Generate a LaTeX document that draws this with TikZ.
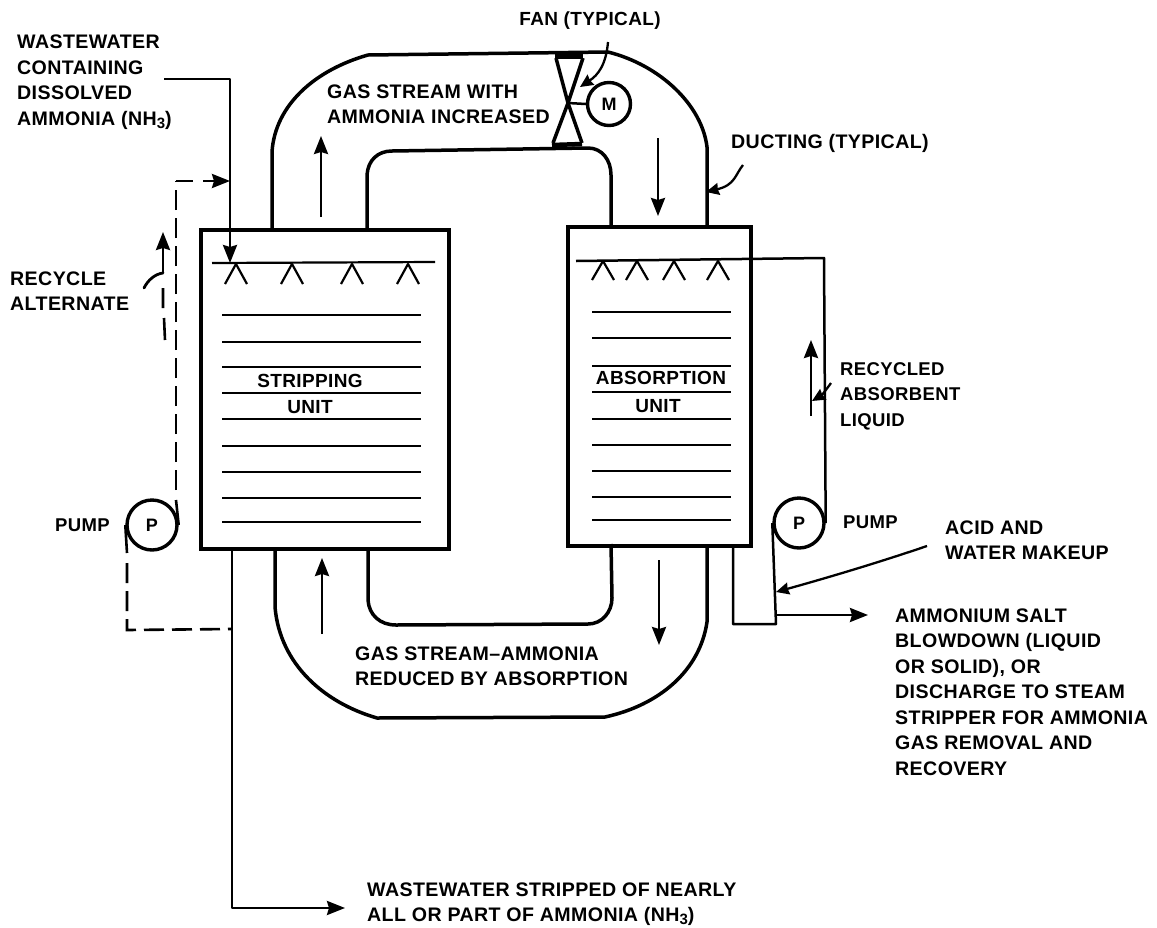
\documentclass[tikz,border=0pt]{standalone}
\usepackage{fontspec}
\setmainfont[LetterSpace=2]{Liberation Sans}
\usetikzlibrary{arrows.meta}
\newcommand{\subthree}{\raisebox{-3pt}{\fontsize{15}{15}\selectfont 3}}
\tikzset{
  vessel/.style={draw,line width=3.5pt,rectangle,inner sep=0pt,anchor=north west},
  duct/.style={line width=3.5pt,line join=round},
  pipe/.style={line width=2.5pt,line join=round},
  dashpipe/.style={line width=2.6pt,dash pattern=on 20pt off 8pt},
  tray/.style={line width=2.2pt},
  machine/.style={draw,circle,line width=3.4pt,minimum size=50pt,inner sep=0pt,font=\fontsize{18}{18}\selectfont\bfseries},
  flowarrow/.style={line width=2.5pt,-{Stealth[length=18pt,width=14pt,inset=2pt]}},
  leader/.style={line width=2.3pt,-{Stealth[length=13pt,width=12pt,inset=1pt]}},
  lab/.style={inner sep=0pt,align=left,anchor=west,font=\fontsize{19.6}{25.5}\selectfont\bfseries},
  clab/.style={inner sep=0pt,align=center,font=\fontsize{19}{25.5}\selectfont\bfseries},
  smalllab/.style={lab,font=\fontsize{18.5}{25.5}\selectfont\bfseries},
}
\begin{document}
\begin{tikzpicture}[x=1pt,y=-1pt]
\useasboundingbox (0,0) rectangle (1157,927);
% vessels
\node[vessel,minimum width=248pt,minimum height=319pt] (strip) at (199,228) {};
\node[vessel,minimum width=183pt,minimum height=319pt] (absorb) at (566,225) {};
% named points
\coordinate (ductAo) at (272,228); \coordinate (ductAi) at (367,228);
\coordinate (ductBi) at (611,225); \coordinate (ductBo) at (707,225);
\coordinate (ductCo) at (275,547); \coordinate (ductCi) at (368,547);
\coordinate (ductDi) at (611,544); \coordinate (ductDo) at (707,544);
% ducts
\draw[duct] (ductAo) -- (272,152) .. controls (275,105) and (315,70) .. (368,55) -- (608,52) .. controls (660,65) and (702,105) .. (707,147) -- (ductBo);
\draw[duct] (ductAi) -- (367,175) .. controls (368,160) and (378,151) .. (392,151) -- (588,148) .. controls (602,148) and (611,160) .. (611,175) -- (ductBi);
\draw[duct] (ductCo) -- (275,607) .. controls (280,665) and (325,703) .. (377,718) -- (605,717) .. controls (660,705) and (700,670) .. (707,622) -- (ductDo);
\draw[duct] (ductCi) -- (368,600) .. controls (369,615) and (380,625) .. (396,625) -- (588,624) .. controls (602,624) and (612,612) .. (612,598) -- (ductDi);
% fan
\node[machine,minimum size=43pt] (motor) at (609,104) {M};
\coordinate (fanC) at (568,103);
\draw[line width=3.5pt,line join=round] (556,58) -- (fanC) -- (553,143) (583,58) -- (fanC) -- (582,143);
\draw[line width=5pt] (555,56) -- (583,56);
\draw[line width=4.5pt] (552,145) -- (582,144);
\draw[pipe] (fanC) -- (motor.west);
% spray headers
\coordinate (hdrSa) at (212,263); \coordinate (hdrSb) at (435,262);
\draw[tray] (hdrSa) -- (hdrSb);
\foreach \x in {236,292,352,408} \draw[tray,line join=round] (\x-11,284) -- (\x,264) -- (\x+11,284);
\foreach \x in {603,637,674,718} \draw[tray,line join=round] (\x-11,280) -- (\x,261) -- (\x+11,280);
% trays
\foreach \y in {315,342,367,393,419,446,472,498,522} \draw[tray] (222,\y) -- (421,\y);
\foreach \y in {312,338,366,392,419,445,471,497,520} \draw[tray] (592,\y) -- (731,\y);
% pumps
\node[machine] (pumpL) at (152,525) {P};
\node[machine] (pumpR) at (799,523) {P};
% wastewater feed
\coordinate (feedS) at (164,79); \coordinate (feedC) at (230,79); \coordinate (feedE) at (230,263);
\draw[pipe,-{Stealth[length=18pt,width=14pt,inset=2pt]}] (feedS) -- (feedC) -- (feedE);
% effluent
\coordinate (effC) at (232,908); \coordinate (effE) at (345,908);
\draw[flowarrow,line join=round] (232,547) -- (effC) -- (effE);
% recycle dashed
\coordinate (recA) at (127,630); \coordinate (recB) at (232,629);
\coordinate (recC) at (176,181); \coordinate (recD) at (230,181);
\draw[line width=2.6pt] (pumpL.west) -- (127,553);
\draw[dashpipe] (127,563) -- (recA) -- (recB);
\draw[line width=2.6pt] (pumpL.east) -- (176,500);
\draw[dashpipe] (176,490) -- (recC);
\draw[line width=2.6pt] (recC) -- (193,181);
\draw[flowarrow] (203,181) -- (recD);
% recycle alternate marker
\coordinate (altA) at (163,273); \coordinate (altB) at (163,232);
\draw[flowarrow] (altA) -- (altB);
\draw[line width=2.8pt,line cap=round] (144,288) .. controls (148,280) and (155,274) .. (altA);
\draw[line width=2.6pt] (163,288) -- (163,308) (164,318) -- (165,340);
% right loop
\coordinate (rcA) at (576,261); \coordinate (rcB) at (824,258);
\draw[pipe] (rcA) -- (rcB) -- (pumpR.east);
\coordinate (blA) at (733,544); \coordinate (blB) at (733,624); \coordinate (blC) at (776,624);
\draw[pipe] (blA) -- (blB) -- (blC) -- (pumpR.west);
\coordinate (outA) at (776,615); \coordinate (outB) at (868,615);
\draw[flowarrow] (outA) -- (outB);
\coordinate (acidA) at (927,546); \coordinate (acidB) at (776,592);
\draw[leader] (acidA) .. controls (880,562) and (830,577) .. (acidB);
% flow arrows
\coordinate (f1a) at (321,217); \coordinate (f1b) at (321,136);
\coordinate (f2a) at (658,138); \coordinate (f2b) at (658,216);
\coordinate (f3a) at (322,634); \coordinate (f3b) at (322,558);
\coordinate (f4a) at (659,560); \coordinate (f4b) at (659,645);
\coordinate (f5a) at (811,416); \coordinate (f5b) at (811,340);
\foreach \a/\b in {f1a/f1b,f2a/f2b,f3a/f3b,f4a/f4b,f5a/f5b} \draw[flowarrow] (\a) -- (\b);
% leaders
\draw[leader] (608,42) .. controls (606,65) and (598,75) .. (580,87);
\draw[leader] (743,165) .. controls (735,175) and (735,185) .. (706,192);
\draw[leader] (831,383) .. controls (826,390) and (822,395) .. (812,401);
% labels
\node[clab] (fanlab) at (590,21) {FAN (TYPICAL)};
\node[lab] (wwlab) at (17,82) {WASTEWATER\\CONTAINING\\DISSOLVED\\AMMONIA (NH\subthree)};
\node[lab] (gaslab) at (327,104) {GAS STREAM WITH\\AMMONIA INCREASED};
\node[lab] (ductlab) at (731,143) {DUCTING (TYPICAL)};
\node[lab] (altlab) at (10,291) {RECYCLE\\ALTERNATE};
\node[smalllab] (plab1) at (55,525) {PUMP};
\node[smalllab] (plab2) at (843,522) {PUMP};
\node[clab] (s1) at (310,381) {STRIPPING};
\node[clab] (s2) at (310,407) {UNIT};
\node[clab] (a1) at (661,378) {ABSORPTION};
\node[clab] (a2) at (658,406) {UNIT};
\node[smalllab] (reclab) at (840,396) {RECYCLED\\ABSORBENT\\LIQUID};
\node[lab] (acidlab) at (945,540) {ACID AND\\WATER MAKEUP};
\node[lab] (saltlab) at (895,692) {AMMONIUM SALT\\BLOWDOWN (LIQUID\\OR SOLID), OR\\DISCHARGE TO STEAM\\STRIPPER FOR AMMONIA\\GAS REMOVAL AND\\RECOVERY};
\node[lab] (reduced) at (355,666) {GAS STREAM--AMMONIA\\REDUCED BY ABSORPTION};
\node[lab] (efflab) at (367,904) {WASTEWATER STRIPPED OF NEARLY\\ALL OR PART OF AMMONIA (NH\subthree)};
\end{tikzpicture}
\end{document}
